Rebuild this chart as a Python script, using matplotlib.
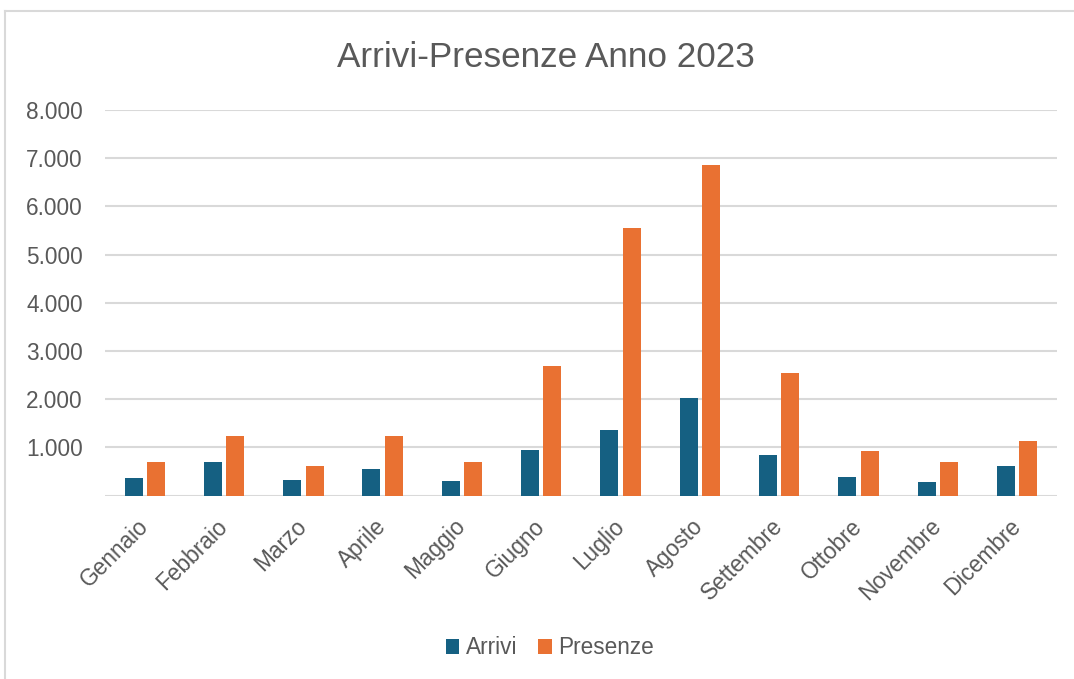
import matplotlib.pyplot as plt
import numpy as np
from matplotlib.lines import Line2D
from matplotlib.ticker import FuncFormatter

mesi = ['Gennaio', 'Febbraio', 'Marzo', 'Aprile', 'Maggio', 'Giugno',
        'Luglio', 'Agosto', 'Settembre', 'Ottobre', 'Novembre', 'Dicembre']
arrivi = [370, 705, 330, 555, 310, 940, 1370, 2020, 850, 395, 285, 625]
presenze = [705, 1245, 610, 1245, 705, 2690, 5550, 6860, 2540, 935, 690, 1125]

colArrivi = '#156082'
colPresenze = '#E97132'
grigio = '#595959'
griglia = '#D9D9D9'

plt.rcParams['font.family'] = ['Liberation Sans', 'DejaVu Sans']

def formatoMigliaia(v, pos):
    if v == 0:
        return ''
    return '{:,.0f}'.format(v).replace(',', '.')

fig = plt.figure(figsize=(10.74, 6.79), dpi=100)
ax = fig.add_axes([0.0978, 0.270, 0.8862, 0.568])

x = np.arange(len(mesi))
larghezza = 0.227
ax.bar(x - 0.141, arrivi, larghezza, color=colArrivi, label='Arrivi', zorder=3)
ax.bar(x + 0.141, presenze, larghezza, color=colPresenze, label='Presenze', zorder=3)

ax.set_xlim(-0.5, len(mesi) - 0.5)
ax.set_ylim(0, 8000)
ax.set_yticks(range(0, 8001, 1000))
ax.yaxis.set_major_formatter(FuncFormatter(formatoMigliaia))
ax.grid(axis='y', color=griglia, linewidth=1.5, zorder=0)
ax.tick_params(axis='y', length=0, pad=16, labelsize=16.3, labelcolor=grigio)

ax.set_xticks(x)
ax.set_xticklabels(mesi, rotation=45, ha='right', va='center', rotation_mode='anchor')
ax.tick_params(axis='x', length=0, pad=19.5, labelsize=16.3, labelcolor=grigio)

for s in ax.spines.values():
    s.set_visible(False)

fig.text(0.508, 0.902, 'Arrivi-Presenze Anno 2023', ha='center', va='baseline',
         fontsize=25.3, color=grigio)

fig.legend(loc='center', bbox_to_anchor=(0.512, 0.0457), ncol=2, frameon=False,
           fontsize=16.3, labelcolor=grigio, handlelength=0.6, handleheight=0.6,
           handletextpad=0.3, columnspacing=0.9)

# bordo del grafico
fig.add_artist(Line2D([5 / 1074, 5 / 1074], [0, 1 - 11 / 679], color=griglia,
                      linewidth=1.5, transform=fig.transFigure))
fig.add_artist(Line2D([5 / 1074, 1], [1 - 11 / 679, 1 - 11 / 679], color=griglia,
                      linewidth=1.5, transform=fig.transFigure))

fig.savefig('out.png', dpi=100)
